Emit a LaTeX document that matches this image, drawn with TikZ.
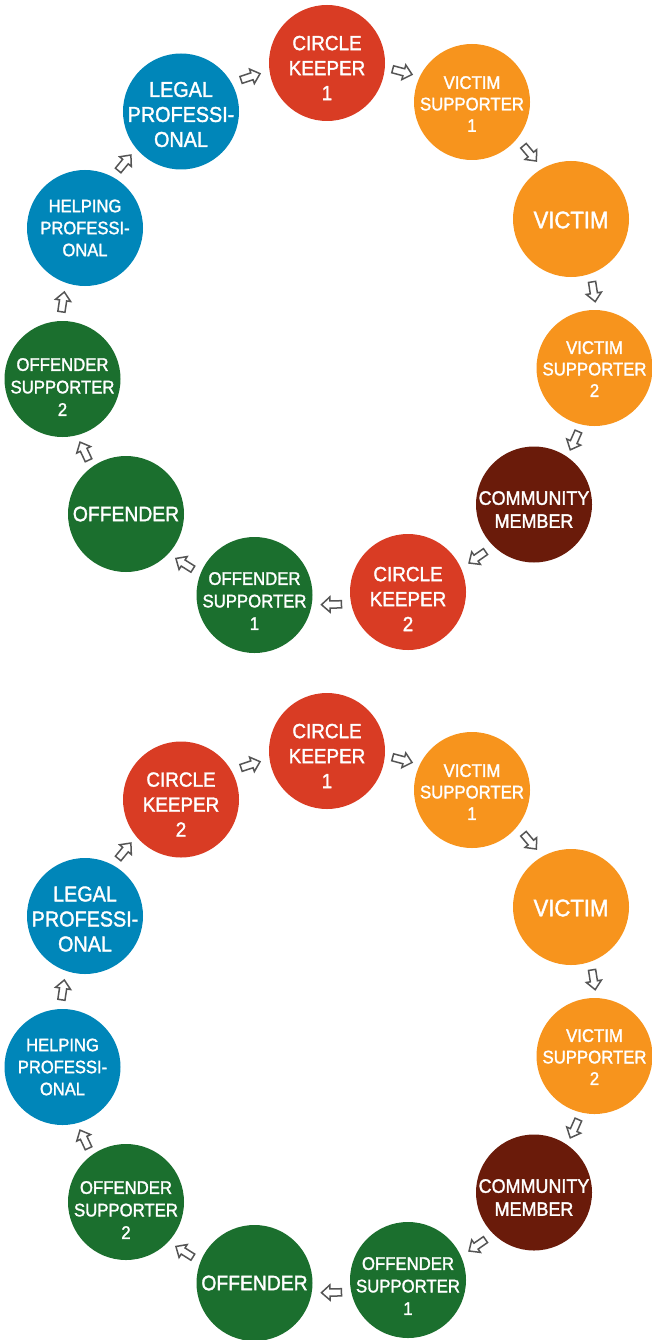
\documentclass[tikz,border=0pt]{standalone}
\usepackage{fontspec}
\setmainfont{Liberation Sans}[FakeStretch=0.92,FakeBold=1.6]
\usetikzlibrary{calc}
\definecolor{ckred}{HTML}{D93C24}
\definecolor{vorange}{HTML}{F7941D}
\definecolor{cmbrown}{HTML}{6A1B0A}
\definecolor{ogreen}{HTML}{1B6F2E}
\definecolor{pblue}{HTML}{0086B9}
\definecolor{arrgray}{HTML}{555555}
\tikzset{
  circbox/.style={circle, minimum size=116pt, inner sep=0pt},
  lbl/.style={text=white, align=center, inner sep=0pt},
  ckfont/.style={lbl, font=\fontsize{20.5}{25}\selectfont},
  vsfont/.style={lbl, font=\fontsize{18.2}{21.5}\selectfont},
  vicfont/.style={lbl, font=\fontsize{24}{28}\selectfont},
  cmfont/.style={lbl, font=\fontsize{19.5}{23}\selectfont},
  osfont/.style={lbl, font=\fontsize{18.2}{22.5}\selectfont},
  offfont/.style={lbl, font=\fontsize{21}{25}\selectfont},
  lpfont/.style={lbl, font=\fontsize{21.5}{25}\selectfont},
  hpfont/.style={lbl, font=\fontsize{18}{22}\selectfont},
  arrowline/.style={draw=arrgray, fill=white, line width=1.5pt, line join=miter},
  blockarr/.pic={
    \path[arrowline] (-10,-3.6) -- (1.5,-3.6) -- (1.5,-7.6) -- (10,0)
      -- (1.5,7.6) -- (1.5,3.6) -- (-10,3.6) -- cycle;
  },
}
% #1 colour, #2 name, #3 centre, #4 text style, #5 text drop, #6 text
\newcommand\circnode[6]{%
  \node[circbox, fill=#1] (#2) at (#3) {};
  \node[#4, yshift=-#5pt] (#2t) at (#2) {#6};}
\newcommand\flowarrow[2]{\path let \p1=(#1), \p2=(#2), \n1={atan2(\y2-\y1,\x2-\x1)} in
  ($(#1)!0.5!(#2)!11pt!90:(#2)$) pic[rotate=\n1] {blockarr};}
\begin{document}
\begin{tikzpicture}[x=1pt,y=-1pt]
\useasboundingbox (0,0) rectangle (652,1340);
\fill[white] (0,0) rectangle (652,1340);
% top cycle
\circnode{ckred}{a1}{327,63}{ckfont}{5}{CIRCLE\\KEEPER\\1}
\circnode{vorange}{a2}{472,102}{vsfont}{2}{VICTIM\\SUPPORTER\\1}
\circnode{vorange}{a3}{571,219}{vicfont}{1}{VICTIM}
\circnode{vorange}{a4}{594.5,368}{vsfont}{1}{VICTIM\\SUPPORTER\\2}
\circnode{cmbrown}{a5}{534,504.5}{cmfont}{5}{COMMUNITY\\MEMBER}
\circnode{ckred}{a6}{408,592}{ckfont}{7}{CIRCLE\\KEEPER\\2}
\circnode{ogreen}{a7}{254.5,595}{osfont}{6}{OFFENDER\\SUPPORTER\\1}
\circnode{ogreen}{a8}{126,514}{offfont}{0}{OFFENDER}
\circnode{ogreen}{a9}{62.5,379}{osfont}{8}{OFFENDER\\SUPPORTER\\2}
\circnode{pblue}{a10}{85,228}{hpfont}{0}{HELPING\\PROFESSI-\\ONAL}
\circnode{pblue}{a11}{181,111.5}{lpfont}{3}{LEGAL\\PROFESSI-\\ONAL}
% bottom cycle
\circnode{ckred}{b1}{327,751}{ckfont}{5}{CIRCLE\\KEEPER\\1}
\circnode{vorange}{b2}{472,790}{vsfont}{2}{VICTIM\\SUPPORTER\\1}
\circnode{vorange}{b3}{571,907}{vicfont}{1}{VICTIM}
\circnode{vorange}{b4}{594.5,1056}{vsfont}{1}{VICTIM\\SUPPORTER\\2}
\circnode{cmbrown}{b5}{534,1192.5}{cmfont}{5}{COMMUNITY\\MEMBER}
\circnode{ogreen}{b6}{408,1280}{osfont}{6}{OFFENDER\\SUPPORTER\\1}
\circnode{ogreen}{b7}{254.5,1283}{offfont}{0}{OFFENDER}
\circnode{ogreen}{b8}{126,1202}{osfont}{8}{OFFENDER\\SUPPORTER\\2}
\circnode{pblue}{b9}{62.5,1067}{hpfont}{0}{HELPING\\PROFESSI-\\ONAL}
\circnode{pblue}{b10}{85,916}{lpfont}{3}{LEGAL\\PROFESSI-\\ONAL}
\circnode{ckred}{b11}{181,799.5}{ckfont}{5}{CIRCLE\\KEEPER\\2}
% arrows
\flowarrow{a1}{a2}\flowarrow{a2}{a3}\flowarrow{a3}{a4}\flowarrow{a4}{a5}
\flowarrow{a5}{a6}\flowarrow{a6}{a7}\flowarrow{a7}{a8}\flowarrow{a8}{a9}
\flowarrow{a9}{a10}\flowarrow{a10}{a11}\flowarrow{a11}{a1}
\flowarrow{b1}{b2}\flowarrow{b2}{b3}\flowarrow{b3}{b4}\flowarrow{b4}{b5}
\flowarrow{b5}{b6}\flowarrow{b6}{b7}\flowarrow{b7}{b8}\flowarrow{b8}{b9}
\flowarrow{b9}{b10}\flowarrow{b10}{b11}\flowarrow{b11}{b1}
\end{tikzpicture}
\end{document}
